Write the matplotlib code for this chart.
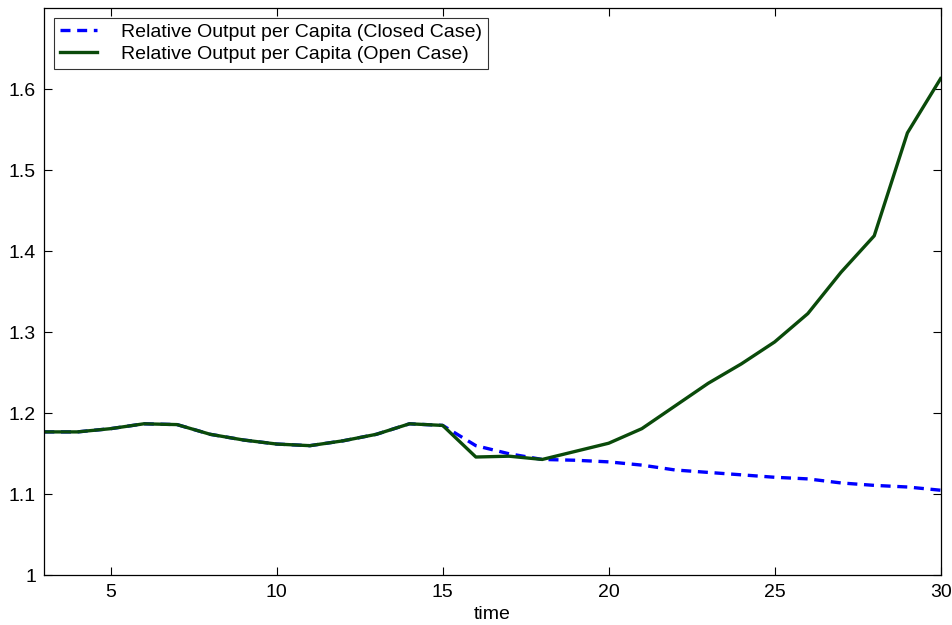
import matplotlib
matplotlib.use('Agg')

import matplotlib.pyplot as plt
import numpy as np

time = list(range(3, 31))
closed_case = [1.177, 1.177, 1.181, 1.187, 1.186, 1.174, 1.167, 1.162, 1.160, 1.166,
               1.174, 1.187, 1.185, 1.160, 1.150, 1.143, 1.142, 1.140, 1.136, 1.130,
               1.127, 1.124, 1.121, 1.119, 1.114, 1.111, 1.109, 1.105]
open_case = [1.177, 1.177, 1.181, 1.187, 1.186, 1.174, 1.167, 1.162, 1.160, 1.166,
             1.174, 1.187, 1.185, 1.146, 1.147, 1.143, 1.153, 1.163, 1.181, 1.209,
             1.237, 1.261, 1.288, 1.323, 1.374, 1.419, 1.546, 1.613]

plt.rcParams['font.family'] = ['Liberation Sans', 'DejaVu Sans']

fig = plt.figure(figsize=(9.53, 6.25), dpi=100)
ax = fig.add_axes([0.0465, 0.0795, 0.9405, 0.9075])

ax.plot(time, closed_case, color='#0000ff', linestyle=(0, (3.0, 2.0)), linewidth=2.4,
        label='Relative Output per Capita (Closed Case)')
ax.plot(time, open_case, color='#0a4a0a', linewidth=2.4,
        label='Relative Output per Capita (Open Case)')

ax.set_xlim(3, 30)
ax.set_ylim(1, 1.7)
ax.set_xticks([5, 10, 15, 20, 25, 30])
ax.set_yticks([1, 1.1, 1.2, 1.3, 1.4, 1.5, 1.6])
ax.set_yticklabels(['1', '1.1', '1.2', '1.3', '1.4', '1.5', '1.6'])
ax.tick_params(direction='in', top=True, right=True, length=6, width=0.8,
               labelsize=14, pad=6)
for s in ax.spines.values():
    s.set_linewidth(0.9)

ax.set_xlabel('time', fontsize=14, labelpad=4)

leg = ax.legend(loc='upper left', fontsize=14, frameon=True, fancybox=False,
                handlelength=1.9, borderpad=0.3, labelspacing=0.2,
                borderaxespad=0.5, handletextpad=1.25)
leg.get_frame().set_edgecolor('black')
leg.get_frame().set_linewidth(0.8)

plt.savefig('out.png', dpi=100)
